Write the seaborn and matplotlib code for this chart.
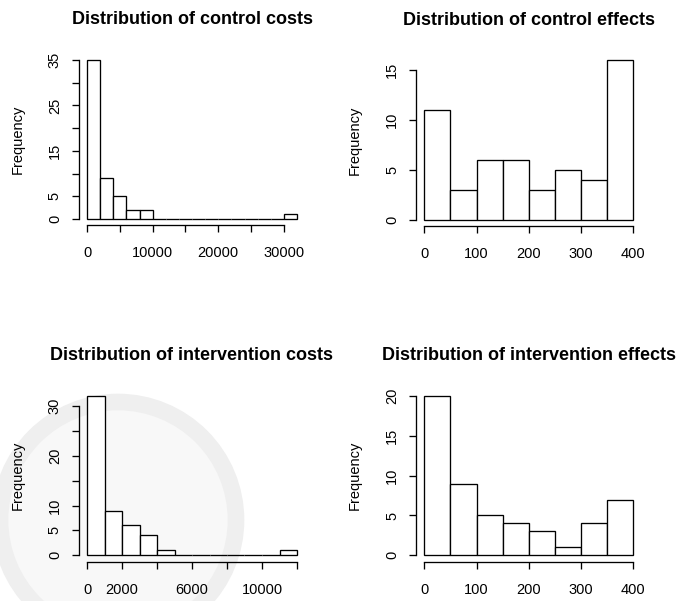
import numpy as np
import pandas as pd
import matplotlib
matplotlib.use("Agg")
import matplotlib.pyplot as plt
import seaborn as sns

# histogram counts (bins start at 0)
control_cost_counts = [35, 9, 5, 2, 2, 0, 0, 0, 0, 0, 0, 0, 0, 0, 0, 1]
control_cost_binwidth = 2000
control_effect_counts = [11, 3, 6, 6, 3, 5, 4, 16]
control_effect_binwidth = 50
interv_cost_counts = [32, 9, 6, 4, 1, 0, 0, 0, 0, 0, 0, 1]
interv_cost_binwidth = 1000
interv_effect_counts = [20, 9, 5, 4, 3, 1, 4, 7]
interv_effect_binwidth = 50

titles = ["Distribution of control costs", "Distribution of control effects",
          "Distribution of intervention costs", "Distribution of intervention effects"]

# ticks and the labels R kept (blank = label dropped for overlap)
xticks = [[0, 5000, 10000, 15000, 20000, 25000, 30000],
          [0, 100, 200, 300, 400],
          [0, 2000, 4000, 6000, 8000, 10000, 12000],
          [0, 100, 200, 300, 400]]
xticklabels = [["0", "", "10000", "", "20000", "", "30000"],
               ["0", "100", "200", "300", "400"],
               ["0", "2000", "", "6000", "", "10000", ""],
               ["0", "100", "200", "300", "400"]]
yticks = [[0, 5, 10, 15, 20, 25, 30, 35],
          [0, 5, 10, 15],
          [0, 5, 10, 15, 20, 25, 30],
          [0, 5, 10, 15, 20]]
yticklabels = [["0", "5", "", "15", "", "25", "", "35"],
               ["0", "5", "10", "15"],
               ["0", "5", "10", "", "20", "", "30"],
               ["0", "5", "10", "15", "20"]]

sns.set_style("white")
plt.rcParams['font.family'] = ['Liberation Sans', 'DejaVu Sans']
plt.rcParams.update({'text.color': 'black', 'axes.labelcolor': 'black',
                     'xtick.color': 'black', 'ytick.color': 'black'})

fig = plt.figure(figsize=(6.77, 6.01), dpi=100)

# very faint watermark disc in the lower left, as in the source image
fig.patches.append(matplotlib.patches.Circle(
    (1.18, 0.81), 1.18, transform=fig.dpi_scale_trans,
    facecolor="#f8f8f8", edgecolor="#efefef", linewidth=12, zorder=-10))

W, H = 677, 601
positions = [(78.6, 53.6, 305.4, 225.4), (416.0, 54.0, 641.7, 226.0),
             (78.6, 389.6, 305.4, 561.7), (416.0, 389.6, 641.7, 561.7)]

all_counts = [control_cost_counts, control_effect_counts,
              interv_cost_counts, interv_effect_counts]
all_widths = [control_cost_binwidth, control_effect_binwidth,
              interv_cost_binwidth, interv_effect_binwidth]

for i, (l, t, r, b) in enumerate(positions):
    ax = fig.add_axes([l / W, 1 - b / H, (r - l) / W, (b - t) / H])
    ax.patch.set_alpha(0)
    counts = np.array(all_counts[i], dtype=float)
    bw = all_widths[i]
    hi = len(counts) * bw
    df = pd.DataFrame({"value": np.arange(len(counts)) * bw + bw / 2,
                       "count": counts})
    sns.histplot(data=df, x="value", weights="count", bins=len(counts),
                 binrange=(0, hi), ax=ax, color="white", edgecolor="black",
                 linewidth=0.95, alpha=1)

    ax.set_xlim(-0.04 * hi, hi * 1.04)
    m = counts.max()
    ax.set_ylim(-0.04 * m, m * 1.04)

    ax.set_xticks(xticks[i])
    ax.set_xticklabels(xticklabels[i])
    ax.set_yticks(yticks[i])
    ax.set_yticklabels(yticklabels[i], rotation=90, va="center")
    ax.spines['top'].set_visible(False)
    ax.spines['right'].set_visible(False)
    ax.spines['left'].set_bounds(yticks[i][0], yticks[i][-1])
    ax.spines['bottom'].set_bounds(xticks[i][0], xticks[i][-1])
    for s in ['left', 'bottom']:
        ax.spines[s].set_color("black")
        ax.spines[s].set_linewidth(0.95)
    ax.tick_params(axis='both', direction='out', length=5, width=0.95,
                   color="black", labelsize=10.5, left=True, bottom=True)
    ax.tick_params(axis='x', pad=10)
    ax.tick_params(axis='y', pad=7)
    ax.set_xlabel("")
    ax.set_ylabel("Frequency", fontsize=10.5, labelpad=17)
    ax.set_title(titles[i], fontsize=13, fontweight="bold", pad=21)

fig.savefig("out.png", dpi=100)
